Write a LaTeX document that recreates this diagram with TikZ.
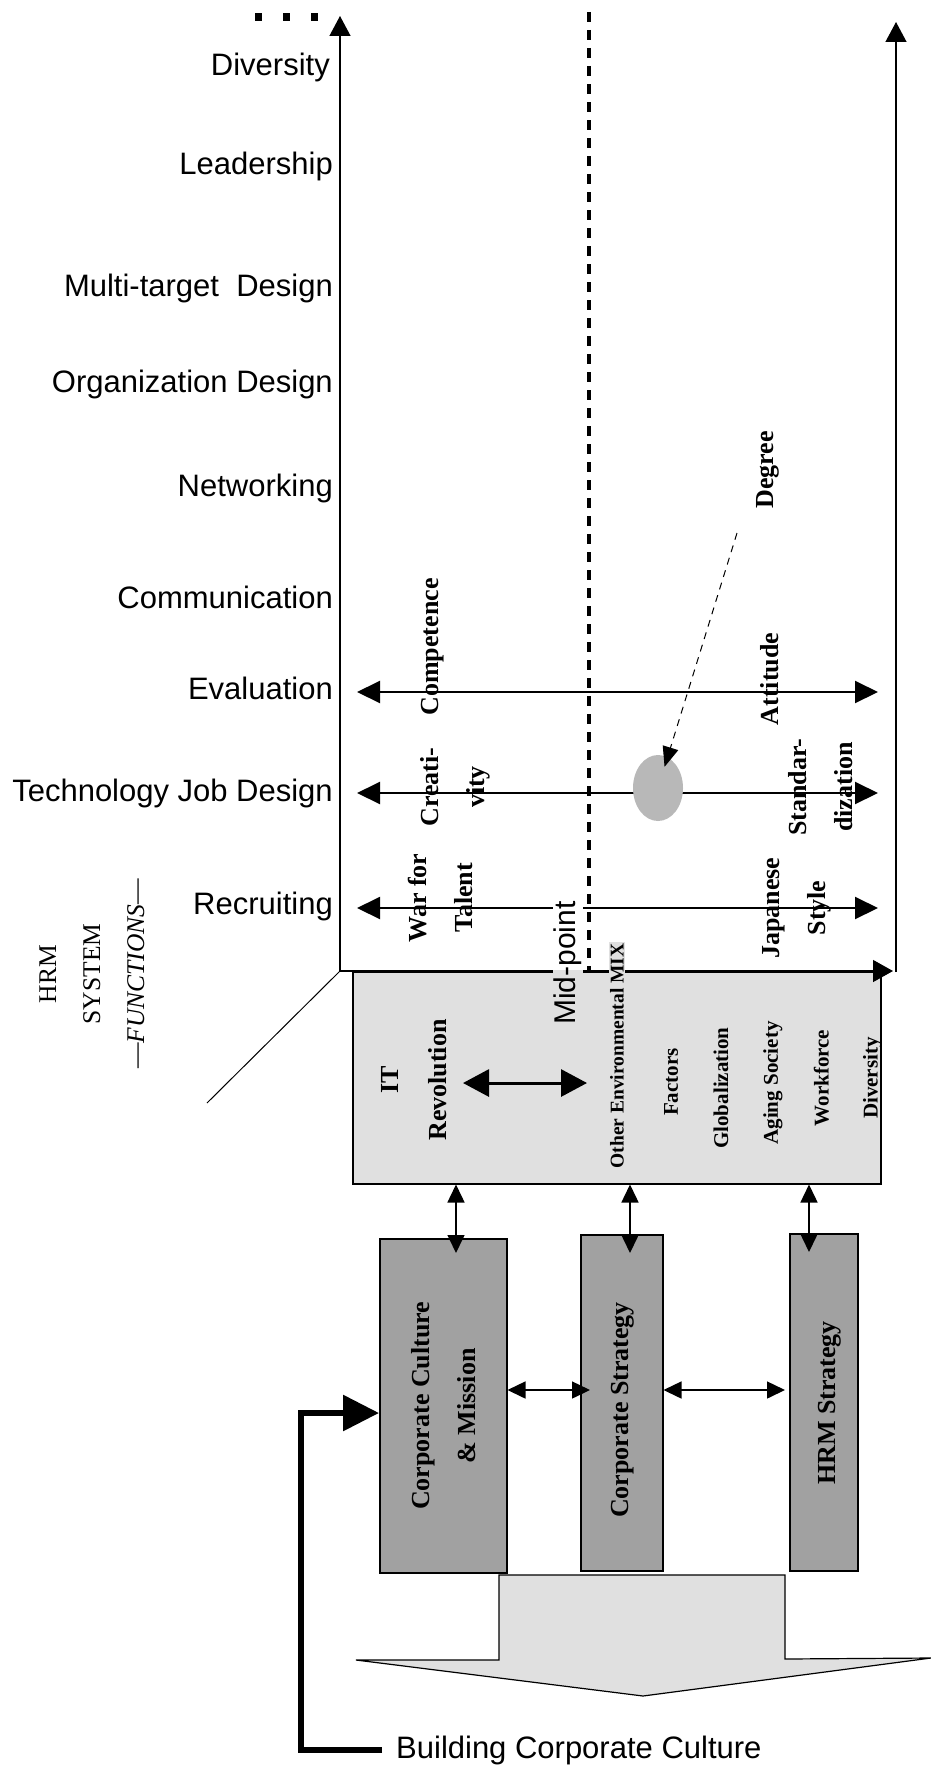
\documentclass[tikz,border=0pt]{standalone}
\usepackage{fontspec}
\setmainfont{Liberation Serif}
\newfontfamily\gothic{Liberation Sans}
\usetikzlibrary{arrows.meta,shapes.geometric}
\definecolor{envfill}{gray}{0.88}
\definecolor{boxfill}{gray}{0.63}
\definecolor{ovalfill}{gray}{0.72}
\begin{document}
\begin{tikzpicture}[x=1pt,y=-1pt,
  every node/.style={inner sep=1pt},
  axisline/.style={line width=1.3pt},
  rowarrow/.style={line width=2pt,{Triangle[length=23pt,width=22pt]}-{Triangle[length=23pt,width=22pt]}},
  smalldbl/.style={line width=1.5pt,{Triangle[length=18pt,width=17pt]}-{Triangle[length=18pt,width=17pt]}},
  envdbl/.style={line width=3pt,{Triangle[length=26pt,width=27pt]}-{Triangle[length=26pt,width=27pt]}},
  funclabel/.style={anchor=east,font=\gothic\fontsize{31}{31}\selectfont,text height=22pt,text depth=0pt,inner sep=0pt},
  vlabel/.style={rotate=90,align=center,font=\bfseries\fontsize{26}{46}\selectfont},
  envlabel/.style={rotate=90,align=center,font=\bfseries\fontsize{21}{49}\selectfont},
  greybox/.style={draw,line width=1.5pt,anchor=north west,inner sep=0pt},
]
\useasboundingbox (0,0) rectangle (931,1769);
\fill[white] (0,0) rectangle (931,1769);

% ---------- boxes ----------
\node[greybox,fill=envfill,minimum width=528pt,minimum height=212pt] (env) at (352,971) {};
\node[greybox,fill=boxfill,minimum width=127pt,minimum height=334pt] (cc) at (379,1238) {};
\node[greybox,fill=boxfill,minimum width=82pt,minimum height=336pt] (cs) at (580,1234) {};
\node[greybox,fill=boxfill,minimum width=68pt,minimum height=337pt] (hrm) at (789,1233) {};

% block arrow pointing down
\path[draw,fill=envfill,line width=1.2pt,line join=miter]
  (499,1575) -- (785,1575) -- (785,1659) -- (931,1658) -- (643,1696)
  -- (356,1660) -- (499,1660) -- cycle;

% ---------- axes ----------
\coordinate (O) at (340,971);
\coordinate (ytop) at (340,16);
\coordinate (xend) at (893,971);
\coordinate (rbot) at (896,972);
\coordinate (rtop) at (896,22);
\coordinate (diag) at (207,1103);
\coordinate (dtop) at (589,12);
\coordinate (dbot) at (589,970);
\draw[axisline,-{Triangle[length=20pt,width=21pt]}] (O) -- (ytop);
\draw[axisline,-{Triangle[length=20pt,width=21pt]}] (rbot) -- (rtop);
\draw[axisline,-{Triangle[length=20pt,width=22pt]}] (O) -- (xend);
\draw[line width=1pt] (O) -- (diag);
\draw[line width=3.3pt,dash pattern=on 10pt off 8pt] (dtop) -- (dbot);

% three dots above the function list
\foreach \dx in {258,286,314}
  \fill (\dx-3.5,13) rectangle (\dx+3.5,21);

% ---------- row arrows ----------
\coordinate (r1a) at (357,692); \coordinate (r1b) at (878,692);
\coordinate (r2a) at (357,793); \coordinate (r2b) at (878,793);
\coordinate (r3a) at (357,908); \coordinate (r3b) at (878,908);
\draw[rowarrow] (r1a) -- (r1b);
\draw[rowarrow] (r2a) -- (r2b);
\draw[rowarrow] (r3a) -- (r3b);

% degree marker
\node[ellipse,fill=ovalfill,minimum width=50pt,minimum height=66pt,inner sep=0pt] (oval) at (658,788) {};
\coordinate (dstart) at (737,533);
\draw[line width=1pt,dash pattern=on 7pt off 6pt,-{Triangle[length=20pt,width=16pt]},shorten >=-10pt] (dstart) -- (oval);

% ---------- arrows of the lower part ----------
\coordinate (e1) at (463,1083); \coordinate (e2) at (587,1083);
\draw[envdbl] (e1) -- (e2);
\coordinate (v1) at (456,1253);
\coordinate (v2) at (630,1253);
\coordinate (v3) at (809,1252);
\draw[smalldbl] (env.south -| v1) -- (v1);
\draw[smalldbl] (env.south -| v2) -- (v2);
\draw[smalldbl] (env.south -| v3) -- (v3);
\coordinate (h1) at (590,1390);
\coordinate (h2) at (785,1390);
\draw[smalldbl] (cc.east |- h1) -- (h1);
\draw[smalldbl] (cs.east |- h2) -- (h2);

% feedback arrow
\node[anchor=west,font=\gothic\fontsize{31}{31}\selectfont,inner sep=2pt] (bcc) at (394,1750) {Building Corporate Culture};
\coordinate (tc) at (301,1413);
\draw[line width=6pt,line join=miter,-{Triangle[length=36pt,width=35pt]},shorten <=12pt]
  (bcc.west) -| (tc) -- (cc.west |- tc);

% gaps cut by the mid-point label
\fill[white] (553,897) rectangle (583,970);
\fill[envfill] (553,970) rectangle (583,1026);

% ---------- function labels ----------
\node[funclabel] (l1) at (330,64) {Diversity};
\node[funclabel] (l2) at (333,163) {Leadership};
\node[funclabel] (l3) at (333,285) {Multi-target~ Design};
\node[funclabel] (l4) at (333,381) {Organization Design};
\node[funclabel] (l5) at (333,485) {Networking};
\node[funclabel] (l6) at (333,597) {Communication};
\node[funclabel] (l7) at (333,688) {Evaluation};
\node[funclabel] (l8) at (333,790) {Technology Job Design};
\node[funclabel] (l9) at (333,903) {Recruiting};

\node[rotate=90,align=center,font=\fontsize{25.5}{44}\selectfont] (hrmsys) at (92,974)
  {HRM\\SYSTEM\\---\textit{FUNCTIONS}---};

% ---------- rotated labels on the axes ----------
\node[vlabel] (comp) at (433,647) {Competence};
\node[vlabel] (att) at (770,679) {Attitude};
\node[vlabel] (crea) at (455,787) {Creati-\\vity};
\node[vlabel] (stand) at (821,787) {Standar-\\dization};
\node[vlabel] (war) at (440,898) {War for\\Talent};
\node[vlabel] (jap) at (797,908) {Japanese\\Style};
\node[vlabel] (deg) at (768,470) {Degree};
\node[rotate=90,font=\gothic\fontsize{30}{30}\selectfont,inner sep=0pt] (mid) at (568,963) {Mid-point};

% ---------- environment box texts ----------
\node[vlabel,font=\bfseries\fontsize{26}{48}\selectfont] (itrev) at (414,1080) {IT\\Revolution};
\node[rotate=90,fill=envfill,inner sep=1.5pt,font=\bfseries\fontsize{19.5}{19.5}\selectfont] (other) at (617,1056) {Other Environmental MIX};
\node[envlabel] (fac) at (671,1082) {Factors};
\node[envlabel] (glob) at (721,1088) {Globalization};
\node[envlabel] (aging) at (773,1083) {Aging Society};
\node[envlabel] (wfd) at (848,1078) {Workforce\\Diversity};

% ---------- strategy box texts ----------
\node[vlabel] (cctext) at (cc.center) {Corporate Culture\\\& Mission};
\node[vlabel] (cstext) at (623,1410) {Corporate Strategy};
\node[vlabel] (hrmtext) at (830,1403) {HRM Strategy};
\end{tikzpicture}
\end{document}
